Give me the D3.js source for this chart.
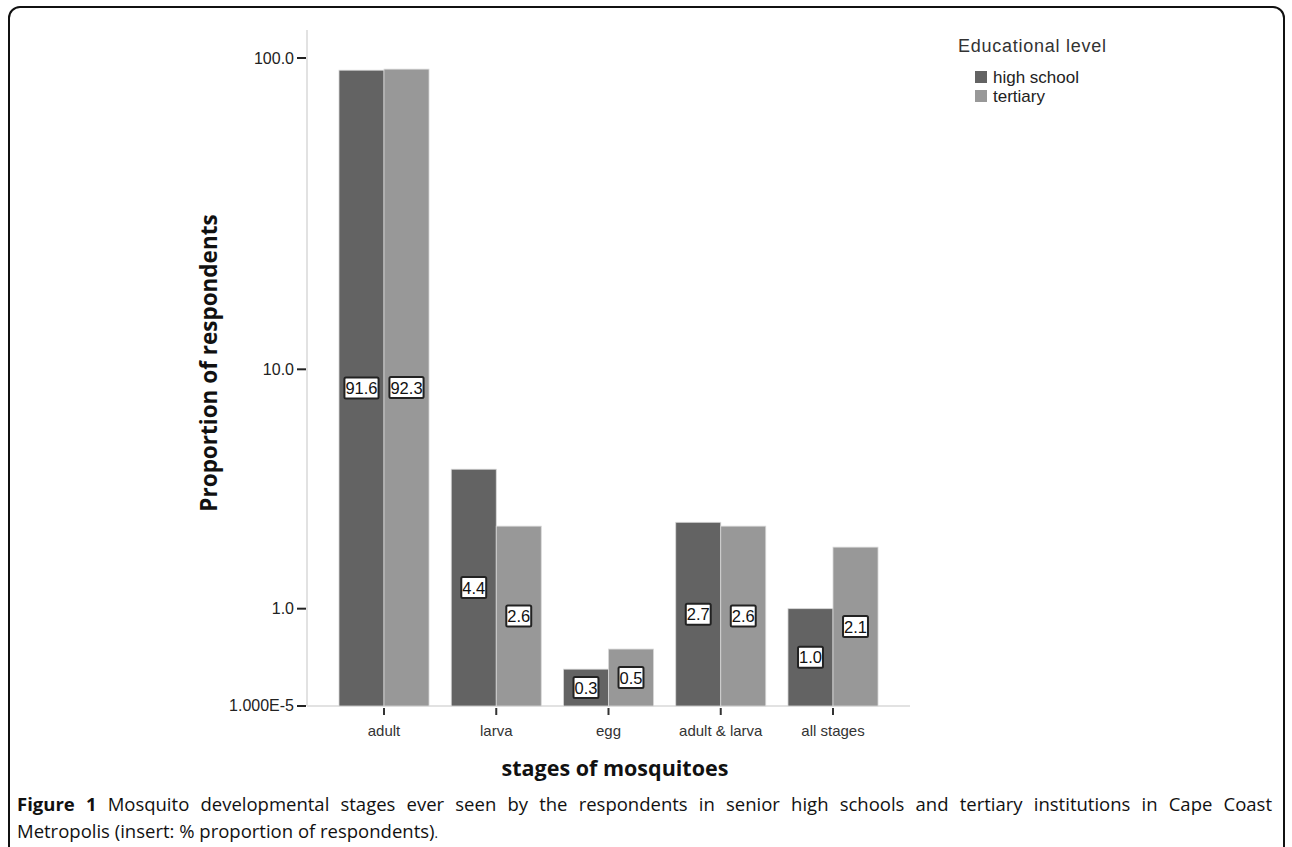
<!DOCTYPE html>
<html>
<head>
<meta charset="utf-8">
<script src="https://cdn.jsdelivr.net/npm/d3@7/dist/d3.min.js"></script>
<style>
  html, body { margin: 0; padding: 0; background: #fff; }
  svg { display: block; }
</style>
</head>
<body>
<svg id="fig" width="1292" height="847"></svg>
<script>
// Mosquito stages seen by respondents, % by educational level
const categories = ["adult", "larva", "egg", "adult & larva", "all stages"];
const seriesNames = ["high school", "tertiary"];
const highSchool = [91.6, 4.4, 0.3, 2.7, 1.0];
const tertiary = [92.3, 2.6, 0.5, 2.6, 2.1];
const yTickValues = [0.00001, 1, 10, 100];
const yTickLabels = ["1.000E-5", "1.0", "10.0", "100.0"];
const colors = ["#636363", "#989898"];

const svg = d3.select("#fig");
const axisFont = "'Liberation Sans', Arial, sans-serif";
const titleFont = "'Open Sans', 'DejaVu Sans', sans-serif";

// frame around the figure
svg.append("rect")
  .attr("x", 9).attr("y", 7)
  .attr("width", 1275).attr("height", 860)
  .attr("rx", 11).attr("ry", 11)
  .attr("fill", "none").attr("stroke", "#111").attr("stroke-width", 2);

const plotLeft = 307, plotRight = 910, baseY = 706, topY = 58;

const x = d3.scaleBand().domain(categories)
  .range([plotLeft, plotRight]).paddingInner(0.198).paddingOuter(0.285);
const xs = d3.scaleBand().domain(seriesNames).range([0, x.bandwidth()]);
const y = d3.scaleSymlog().constant(1).domain([0, 100]).range([baseY, topY]);

const rows = categories.map((c, i) => ({ cat: c, vals: [highSchool[i], tertiary[i]] }));

// axis lines
svg.append("line").attr("x1", plotLeft).attr("x2", plotLeft)
  .attr("y1", 30).attr("y2", baseY)
  .attr("stroke", "#e2e2e2").attr("stroke-width", 2);
svg.append("line").attr("x1", plotLeft).attr("x2", plotRight)
  .attr("y1", baseY).attr("y2", baseY)
  .attr("stroke", "#e2e2e2").attr("stroke-width", 2);

// bars
const groups = svg.append("g").selectAll("g").data(rows).join("g")
  .attr("transform", d => `translate(${x(d.cat)},0)`);

groups.selectAll("rect").data(d => d.vals.map((v, j) => ({ v, s: seriesNames[j], j })))
  .join("rect")
  .attr("x", d => xs(d.s))
  .attr("width", xs.bandwidth())
  .attr("y", d => y(d.v))
  .attr("height", d => y(0) - y(d.v))
  .attr("fill", d => colors[d.j])
  .attr("stroke", "#d8d8d8").attr("stroke-width", 0.8);

// y axis ticks and labels
const yAxis = svg.append("g");
yTickValues.forEach((t, i) => {
  const yy = y(t);
  yAxis.append("line").attr("x1", 297).attr("x2", 306)
    .attr("y1", yy).attr("y2", yy)
    .attr("stroke", "#222").attr("stroke-width", 2);
  yAxis.append("text").attr("x", 294).attr("y", yy + 5.5)
    .attr("text-anchor", "end")
    .attr("font-family", axisFont).attr("font-size", 16)
    .attr("fill", "#222").text(yTickLabels[i]);
});

// x axis ticks and labels
const xAxis = svg.append("g");
categories.forEach(c => {
  const cx = x(c) + x.bandwidth() / 2;
  xAxis.append("line").attr("x1", cx).attr("x2", cx)
    .attr("y1", 708).attr("y2", 715)
    .attr("stroke", "#333").attr("stroke-width", 2);
  xAxis.append("text").attr("x", cx).attr("y", 736)
    .attr("text-anchor", "middle")
    .attr("font-family", axisFont).attr("font-size", 15)
    .attr("fill", "#333").text(c);
});

// value labels in boxes at bar mid-height
const labels = groups.selectAll("g.lbl").data(d => d.vals.map((v, j) => ({ v, s: seriesNames[j] })))
  .join("g").attr("class", "lbl")
  .attr("transform", d => `translate(${xs(d.s) + xs.bandwidth() / 2},${(y(d.v) + y(0)) / 2})`);
labels.each(function (d) {
  const g = d3.select(this);
  const t = g.append("text")
    .attr("text-anchor", "middle").attr("y", 6)
    .attr("font-family", axisFont).attr("font-size", 16.5)
    .attr("fill", "#111").text(d.v.toFixed(1));
  const w = t.node().getComputedTextLength() + 2;
  g.insert("rect", "text")
    .attr("x", -w / 2).attr("y", -10.5)
    .attr("width", w).attr("height", 21)
    .attr("rx", 1.5)
    .attr("fill", "#fff").attr("stroke", "#222").attr("stroke-width", 2);
});

// axis titles
svg.append("text")
  .attr("transform", "translate(217,363) rotate(-90)")
  .attr("text-anchor", "middle")
  .attr("font-family", titleFont).attr("font-weight", "bold")
  .attr("font-size", 22.5).attr("fill", "#111")
  .text("Proportion of respondents");
svg.append("text")
  .attr("x", 615).attr("y", 776)
  .attr("text-anchor", "middle")
  .attr("font-family", titleFont).attr("font-weight", "bold")
  .attr("font-size", 21.5).attr("fill", "#111")
  .text("stages of mosquitoes");

// legend
const legend = svg.append("g");
legend.append("text").attr("x", 958).attr("y", 52)
  .attr("font-family", axisFont).attr("font-size", 18).attr("fill", "#333")
  .attr("textLength", 148).attr("lengthAdjust", "spacing")
  .text("Educational level");
seriesNames.forEach((s, i) => {
  const ly = 71 + i * 19;
  legend.append("rect").attr("x", 975).attr("y", ly)
    .attr("width", 12).attr("height", 12).attr("fill", colors[i]);
  legend.append("text").attr("x", 993).attr("y", ly + 12)
    .attr("font-family", axisFont).attr("font-size", 17).attr("fill", "#222")
    .text(s);
});

// figure caption, first line justified by spreading the words
const capLeft = 17, capRight = 1272, capSize = 18.5;
const line1 = ["Figure", "1", "Mosquito", "developmental", "stages", "ever", "seen", "by", "the",
  "respondents", "in", "senior", "high", "schools", "and", "tertiary", "institutions", "in", "Cape", "Coast"];
const boldWords = 2;
const capG = svg.append("g")
  .attr("font-family", titleFont).attr("font-size", capSize).attr("fill", "#111");
const wordNodes = line1.map((w, i) => capG.append("text")
  .attr("y", 811)
  .attr("font-weight", i < boldWords ? "bold" : "normal")
  .text(w));
const widths = wordNodes.map(n => n.node().getComputedTextLength());
const gap = (capRight - capLeft - d3.sum(widths)) / (line1.length - 1);
let cursor = capLeft;
wordNodes.forEach((n, i) => { n.attr("x", cursor); cursor += widths[i] + gap; });

const cap2 = capG.append("text").attr("x", capLeft).attr("y", 838);
cap2.append("tspan").text("Metropolis (insert: % proportion of respondents)");
cap2.append("tspan").attr("font-size", 13).text(".");
</script>
</body>
</html>
